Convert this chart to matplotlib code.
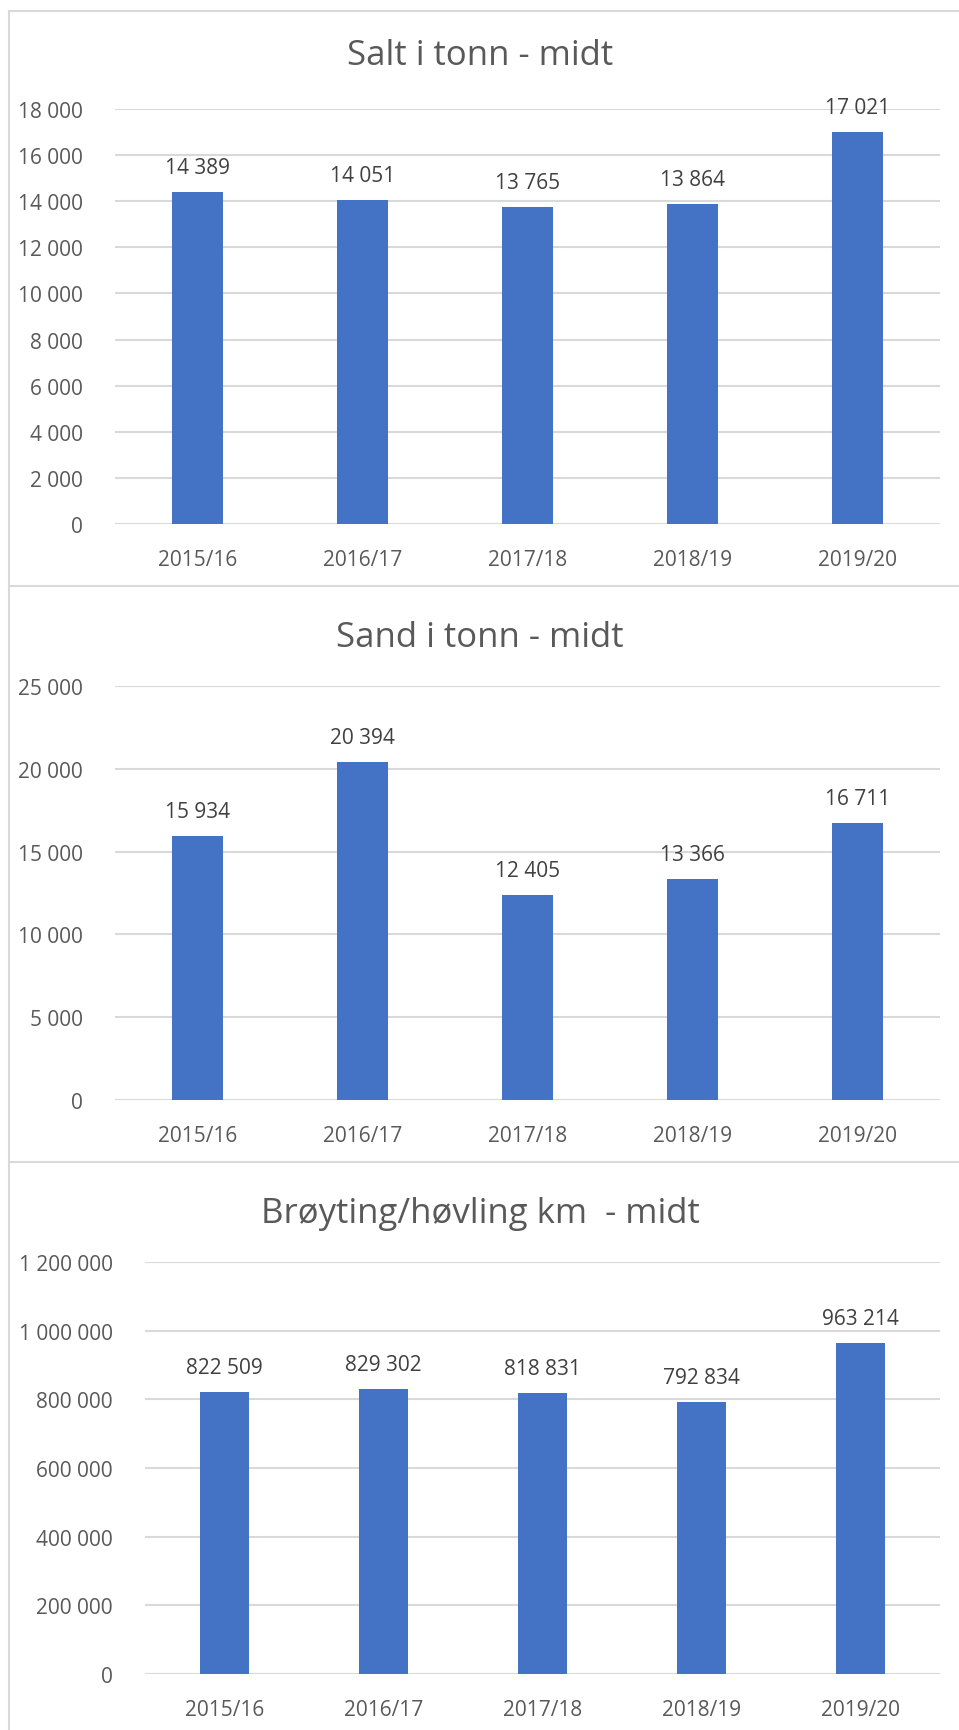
import matplotlib
matplotlib.use("Agg")
import matplotlib.pyplot as plt
from matplotlib.lines import Line2D

plt.rcParams["font.family"] = ["Open Sans", "DejaVu Sans"]

seasons = ["2015/16", "2016/17", "2017/18", "2018/19", "2019/20"]
salt = [14389, 14051, 13765, 13864, 17021]
sand = [15934, 20394, 12405, 13366, 16711]
broyting = [822509, 829302, 818831, 792834, 963214]

titles = ["Salt i tonn - midt", "Sand i tonn - midt", "Brøyting/høvling km  - midt"]
yticks = [list(range(0, 18001, 2000)), list(range(0, 25001, 5000)),
          list(range(0, 1200001, 200000))]

W, H = 959, 1731
BAR = "#4472C4"; GRID = "#D9D9D9"; TXT = "#595959"; LBL = "#404040"

fig = plt.figure(figsize=(W / 100, H / 100), dpi=100)


def fmt(v):
    return f"{v:,}".replace(",", " ")


# pixel boxes: left, right, top(max tick), bottom(0), title y
boxes = [(115, 940, 110, 525, 56), (115, 940, 687, 1101, 638), (145, 940, 1263, 1675, 1214)]

for vals, title, ticks, (l, r, t, b, ty) in zip([salt, sand, broyting], titles, yticks, boxes):
    ax = fig.add_axes([l / W, 1 - b / H, (r - l) / W, (b - t) / H])
    x = range(len(seasons))
    ax.bar(x, vals, width=0.31, color=BAR, zorder=2)
    ax.set_xlim(-0.5, len(seasons) - 0.5)
    ax.set_ylim(0, ticks[-1])
    ax.set_yticks(ticks)
    ax.set_yticklabels([fmt(v) for v in ticks])
    ax.set_xticks(list(x))
    ax.set_xticklabels(seasons)
    ax.tick_params(length=0, labelsize=15, colors=TXT, pad=23)
    ax.tick_params(axis="x", pad=18)
    for v in ticks:
        ax.axhline(v, color=GRID, lw=1.5, zorder=1)
    for s in ax.spines.values():
        s.set_visible(False)
    for i, v in enumerate(vals):
        ax.annotate(fmt(v), (i, v), xytext=(0, 10), textcoords="offset points",
                    ha="center", va="bottom", fontsize=15, color=LBL)
    fig.text(480 / W, 1 - ty / H, title, ha="center", va="center", fontsize=25, color=TXT)

# chart frames
for y in [12, 587, 1163]:
    fig.add_artist(Line2D([9 / W, 1], [1 - y / H] * 2, color=GRID, lw=1.5))
fig.add_artist(Line2D([9 / W] * 2, [0, 1 - 12 / H], color=GRID, lw=1.5))

fig.savefig("out.png", dpi=100, facecolor="white")
